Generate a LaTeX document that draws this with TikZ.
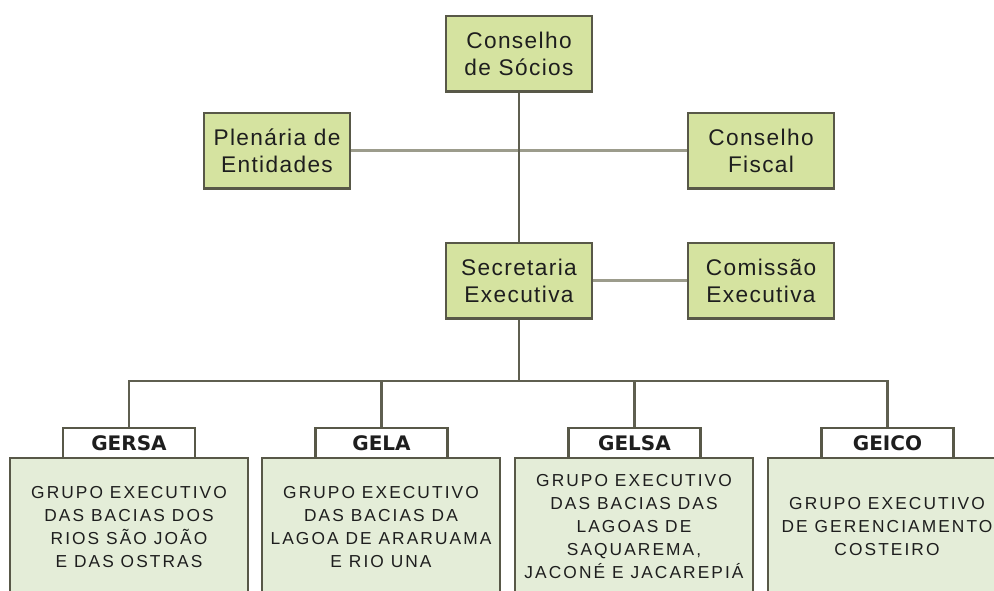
\documentclass[tikz,border=0pt]{standalone}
\usepackage{fontspec}
\setmainfont{Liberation Sans}
\newfontfamily\boxfont[LetterSpace=6]{Liberation Sans}
\newfontfamily\groupfont[LetterSpace=12]{Liberation Sans}
\newfontfamily\tabfont{DejaVu Sans}
\usepackage{xcolor}
\usepackage{tikz}

\definecolor{boxgreen}{RGB}{213,227,160}
\definecolor{bodygreen}{RGB}{228,237,216}
\definecolor{boxline}{RGB}{88,88,72}
\definecolor{linkdark}{RGB}{95,95,80}
\definecolor{linklight}{RGB}{156,156,140}
\definecolor{txt}{RGB}{30,30,30}

\begin{document}
\begin{tikzpicture}[x=0.75pt,y=0.75pt,yscale=-1,xscale=1,
  orgbox/.style={draw=boxline,fill=boxgreen,line width=2pt,minimum width=109.5pt,minimum height=56.5pt,inner sep=0pt,align=center,text=txt,font=\boxfont\fontsize{17}{20.25}\selectfont},
  grouptab/.style={draw=boxline,fill=white,line width=1.6pt,minimum width=99pt,minimum height=22.5pt,inner sep=0pt,text=txt,font=\tabfont\bfseries\fontsize{15}{18}\selectfont},
  groupbody/.style={draw=boxline,fill=bodygreen,line width=1.6pt,minimum width=178.5pt,minimum height=103.5pt,inner sep=0pt,align=center,text=txt,font=\groupfont\fontsize{13}{17.25}\selectfont},
  dark/.style={draw=linkdark,line width=2pt},
  light/.style={draw=linklight,line width=2pt}]
\useasboundingbox[fill=white] (0,0) rectangle (994,590);

%Shape: Rectangle [socios]
\node[orgbox] (socios) at (519,53.5) {Conselho\\de Sócios};
%Shape: Rectangle [plenaria]
\node[orgbox] (plenaria) at (277,150.5) {Plenária de\\Entidades};
%Shape: Rectangle [fiscal]
\node[orgbox] (fiscal) at (761,150.5) {Conselho\\Fiscal};
%Shape: Rectangle [secretaria]
\node[orgbox] (secretaria) at (519,280.5) {Secretaria\\Executiva};
%Shape: Rectangle [comissao]
\node[orgbox] (comissao) at (761,280.5) {Comissão\\Executiva};

%Shape: Rectangle [group bodies]
\node[groupbody] (gersabody) at (129,527) {GRUPO EXECUTIVO\\DAS BACIAS DOS\\RIOS SÃO JOÃO\\E DAS OSTRAS};
\node[groupbody] (gelabody) at (381,527) {GRUPO EXECUTIVO\\DAS BACIAS DA\\LAGOA DE ARARUAMA\\E RIO UNA};
\node[groupbody] (gelsabody) at (634,527) {GRUPO EXECUTIVO\\DAS BACIAS DAS\\LAGOAS DE\\SAQUAREMA,\\JACONÉ E JACAREPIÁ};
\node[groupbody] (geicobody) at (887,527) {GRUPO EXECUTIVO\\DE GERENCIAMENTO\\COSTEIRO};

%Shape: Rectangle [group tabs]
\node[grouptab] (gersa) at (129,443) {GERSA};
\node[grouptab] (gela) at (381.5,443) {GELA};
\node[grouptab] (gelsa) at (634.5,443) {GELSA};
\node[grouptab] (geico) at (887.5,443) {GEICO};

%Straight Lines [links]
\draw[light] (plenaria) -- (fiscal);
\draw[light] (secretaria) -- (comissao);
\draw[dark] (socios) -- (secretaria);
\coordinate (bus) at (519,381);
\draw[dark] (secretaria) -- (bus);
\foreach \g in {gersa,gela,gelsa,geico}
  \draw[dark] (bus) -| (\g.north);

\end{tikzpicture}
\end{document}
